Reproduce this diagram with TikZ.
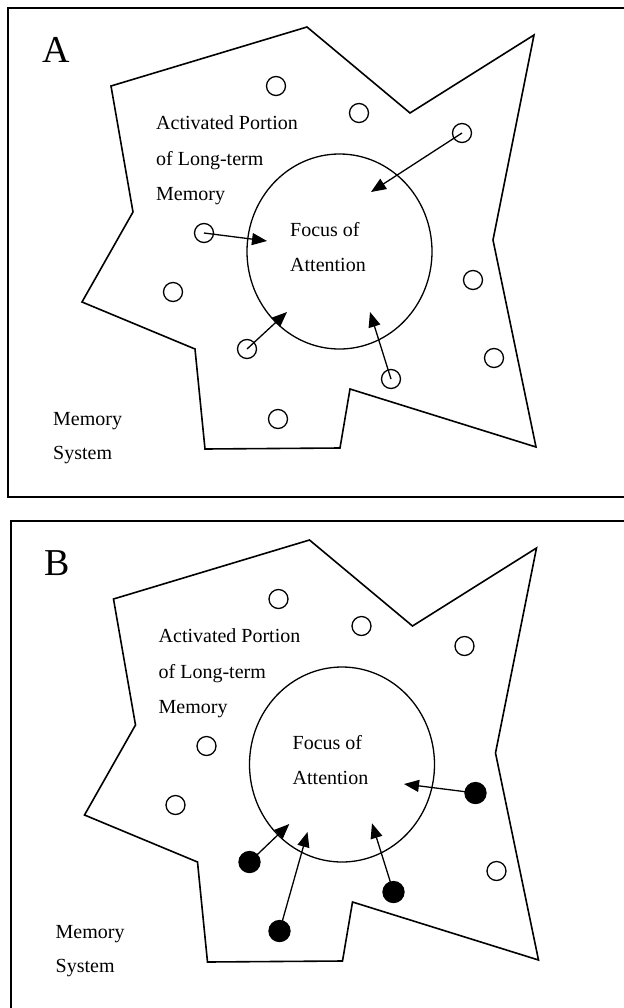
\documentclass[tikz,border=0pt]{standalone}
\usepackage{fontspec}
\setmainfont{Liberation Serif}
\usetikzlibrary{arrows.meta,shapes.geometric}
\begin{document}
\begin{tikzpicture}[x=1bp,y=-1bp,
  frame/.style={line width=2bp},
  region/.style={line width=1.6bp, line join=miter},
  item/.style={circle, draw, line width=1.3bp, minimum size=19bp, inner sep=0pt},
  itemfull/.style={item, fill=black, minimum size=21bp},
  arr/.style={line width=1.3bp, -{Triangle[length=15bp,width=12bp]}},
  lbl/.style={font=\fontsize{20bp}{24bp}\selectfont, inner sep=0pt, anchor=base west},
  panel/.style={font=\fontsize{38bp}{40bp}\selectfont, inner sep=0pt, anchor=base west},
  focus/.style={draw, ellipse, line width=1.3bp, minimum width=185bp, minimum height=195bp, inner sep=0pt}
]
\useasboundingbox (0,0) rectangle (624,1008);
\clip (0,0) rectangle (624,1008);
\fill[white] (0,0) rectangle (624,1008);

% ---------- Panel A ----------
\draw[frame] (7.5,7.5) rectangle (640,497);
\node[panel] (labA) at (42,62) {A};
\draw[region] (111,86) -- (307,27) -- (410,113) -- (534,35) -- (493,240) -- (536,447)
  -- (350,389) -- (340,448) -- (205,449) -- (195,349) -- (82,302) -- (133,212) -- cycle;
\node[focus] (fA) at (339.5,251.5) {};
\node[lbl] (actA1) at (156,129) {Activated Portion};
\node[lbl] (actA2) at (156,165) {of Long-term};
\node[lbl] (actA3) at (156,200) {Memory};
\node[lbl] (focA1) at (290,236) {Focus of};
\node[lbl] (focA2) at (290,271) {Attention};
\node[lbl] (memA1) at (53,425) {Memory};
\node[lbl] (memA2) at (53,459) {System};

\node[item] (a1) at (276,86) {};
\node[item] (a2) at (359,113) {};
\node[item] (a3) at (462,133) {};
\node[item] (a4) at (204,233) {};
\node[item] (a5) at (173,292) {};
\node[item] (a6) at (473,280) {};
\node[item] (a7) at (247,349) {};
\node[item] (a8) at (494,358) {};
\node[item] (a9) at (391,379) {};
\node[item] (a10) at (278,419) {};

\coordinate (tA4) at (267,241);
\coordinate (tA3) at (371,192);
\coordinate (tA7) at (287,312);
\coordinate (tA9) at (370,312);
\draw[arr] (a4.center) -- (tA4);
\draw[arr] (a3.center) -- (tA3);
\draw[arr] (a7.center) -- (tA7);
\draw[arr] (a9.center) -- (tA9);

% ---------- Panel B ----------
\draw[frame] (10.5,520.5) rectangle (640,1030);
\begin{scope}[shift={(2.5,513)}]
\node[panel] (labB) at (42,62) {B};
\draw[region] (111,86) -- (307,27) -- (410,113) -- (534,35) -- (493,240) -- (536,447)
  -- (350,389) -- (340,448) -- (205,449) -- (195,349) -- (82,302) -- (133,212) -- cycle;
\node[focus] (fB) at (339.5,251.5) {};
\node[lbl] (actB1) at (156,129) {Activated Portion};
\node[lbl] (actB2) at (156,165) {of Long-term};
\node[lbl] (actB3) at (156,200) {Memory};
\node[lbl] (focB1) at (290,236) {Focus of};
\node[lbl] (focB2) at (290,271) {Attention};
\node[lbl] (memB1) at (53,425) {Memory};
\node[lbl] (memB2) at (53,459) {System};

\node[item] (b1) at (276,86) {};
\node[item] (b2) at (359,113) {};
\node[item] (b3) at (462,133) {};
\node[item] (b4) at (204,233) {};
\node[item] (b5) at (173,292) {};
\node[itemfull] (b6) at (473,280) {};
\node[itemfull] (b7) at (247,349) {};
\node[item] (b8) at (494,358) {};
\node[itemfull] (b9) at (391,379) {};
\node[itemfull] (b10) at (277,418) {};

\coordinate (tB6) at (401.5,271);
\coordinate (tB7) at (286.8,311);
\coordinate (tB9) at (369.5,310.3);
\coordinate (tB10) at (305,319);
\draw[arr] (b6.center) -- (tB6);
\draw[arr] (b7.center) -- (tB7);
\draw[arr] (b9.center) -- (tB9);
\draw[arr] (b10.center) -- (tB10);
\end{scope}
\end{tikzpicture}
\end{document}
